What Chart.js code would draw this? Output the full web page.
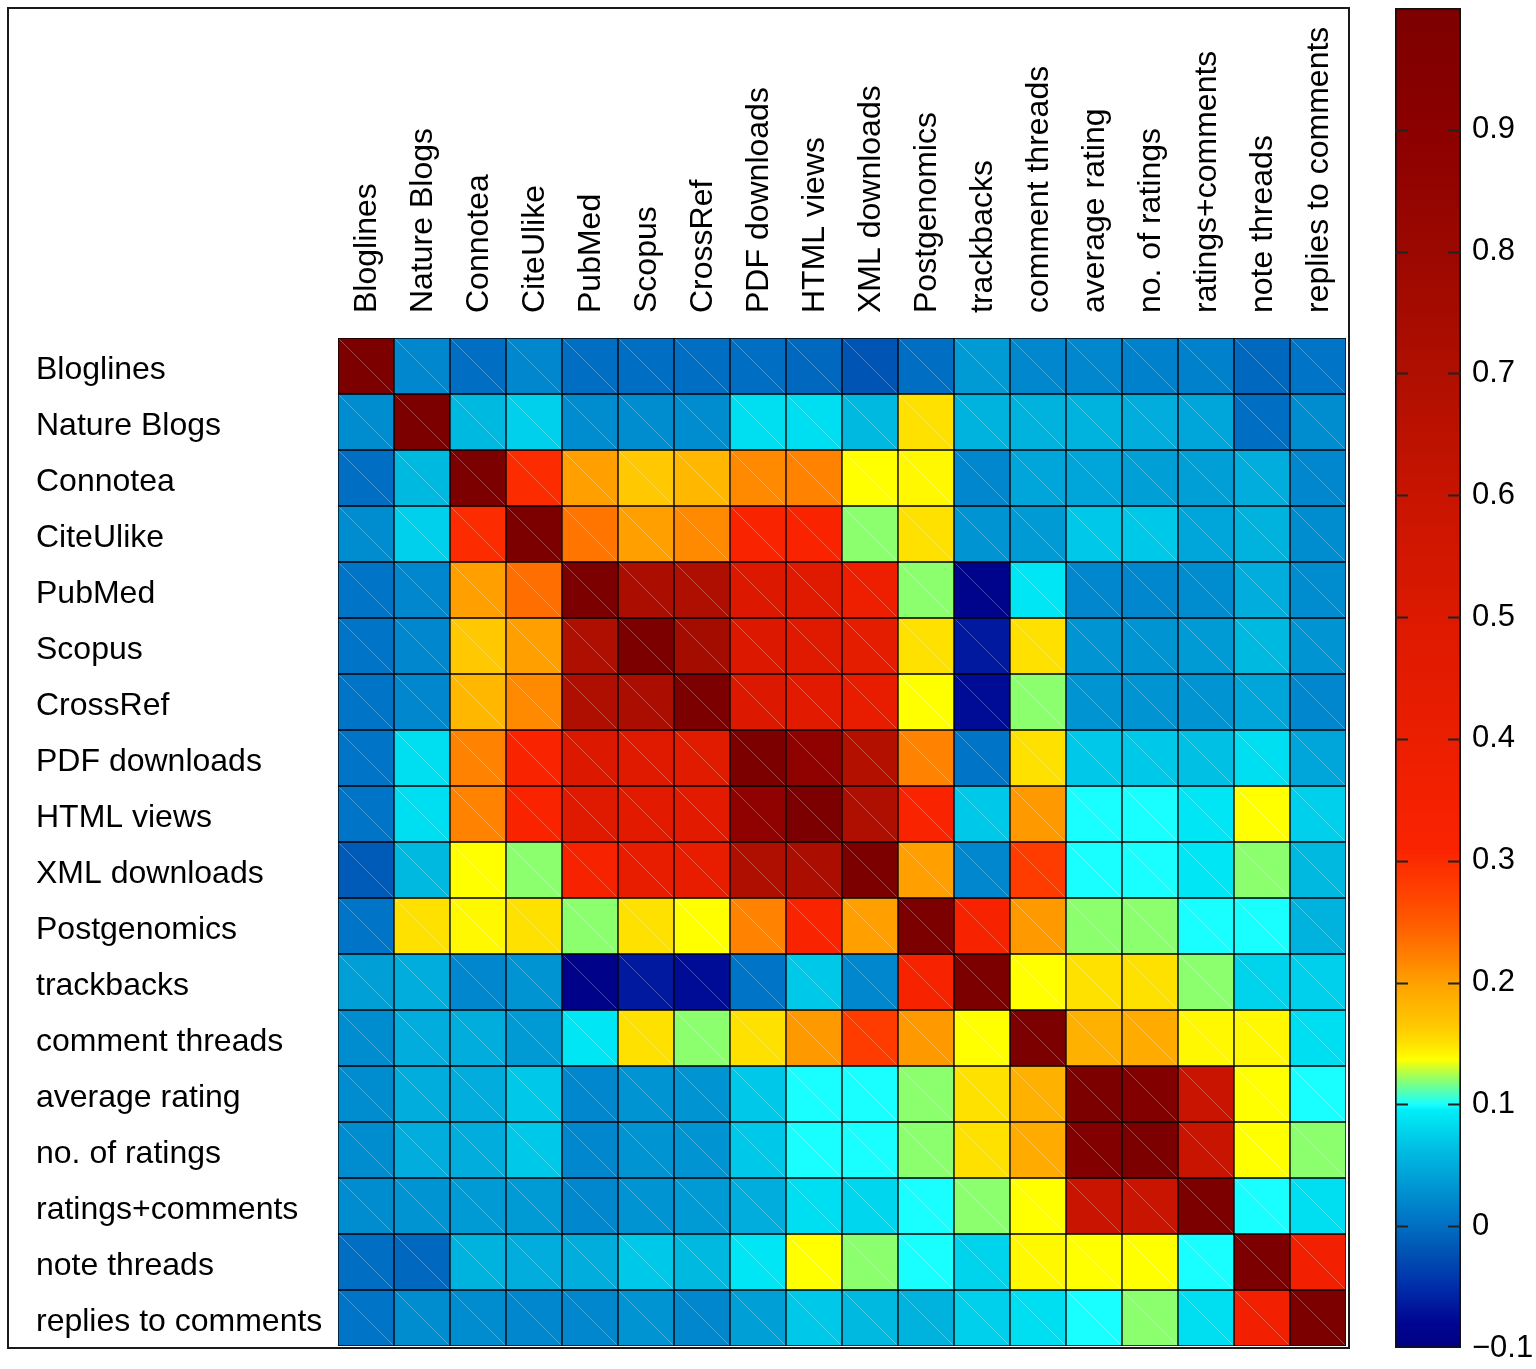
<!DOCTYPE html>
<html>
<head>
<meta charset="utf-8">
<script src="https://cdn.jsdelivr.net/npm/chart.js@4.4.1/dist/chart.umd.min.js"></script>
<style>
  body { margin: 0; background: #fff; }
  #heat { position: absolute; left: 7px; top: 7px; }
  #bar { position: absolute; left: 1380px; top: 0; }
</style>
</head>
<body>
<canvas id="heat" width="1343" height="1342"></canvas>
<canvas id="bar" width="156" height="1369"></canvas>
<script>
// variables, same order on both axes
const names = ['Bloglines', 'Nature Blogs', 'Connotea', 'CiteUlike', 'PubMed', 'Scopus', 'CrossRef',
  'PDF downloads', 'HTML views', 'XML downloads', 'Postgenomics', 'trackbacks', 'comment threads',
  'average rating', 'no. of ratings', 'ratings+comments', 'note threads', 'replies to comments']

// correlation values, one row per variable
const corr = [
  [1.00, 0.02, 0.00, 0.02, 0.00, 0.00, 0.00, 0.00, -0.005, -0.02, 0.00, 0.035, 0.02, 0.02, 0.015, 0.015, -0.005, 0.005],
  [0.025, 1.00, 0.06, 0.075, 0.025, 0.025, 0.025, 0.085, 0.085, 0.06, 0.15, 0.055, 0.055, 0.055, 0.05, 0.045, 0.00, 0.025],
  [0.00, 0.06, 1.00, 0.30, 0.20, 0.165, 0.18, 0.215, 0.22, 0.137, 0.14, 0.02, 0.045, 0.045, 0.04, 0.04, 0.05, 0.02],
  [0.025, 0.075, 0.30, 1.00, 0.23, 0.20, 0.215, 0.31, 0.31, 0.12, 0.15, 0.03, 0.035, 0.07, 0.07, 0.045, 0.055, 0.025],
  [0.005, 0.02, 0.20, 0.235, 1.00, 0.72, 0.70, 0.50, 0.48, 0.38, 0.12, -0.085, 0.09, 0.02, 0.02, 0.025, 0.05, 0.025],
  [0.005, 0.02, 0.165, 0.20, 0.70, 1.00, 0.75, 0.50, 0.48, 0.45, 0.15, -0.065, 0.15, 0.03, 0.03, 0.035, 0.06, 0.03],
  [0.005, 0.02, 0.18, 0.215, 0.70, 0.72, 1.00, 0.50, 0.46, 0.42, 0.137, -0.075, 0.12, 0.03, 0.03, 0.03, 0.045, 0.02],
  [0.005, 0.085, 0.22, 0.31, 0.50, 0.48, 0.47, 1.00, 0.88, 0.68, 0.22, 0.005, 0.15, 0.07, 0.07, 0.065, 0.085, 0.045],
  [0.005, 0.085, 0.22, 0.31, 0.48, 0.46, 0.46, 0.88, 1.00, 0.70, 0.31, 0.07, 0.205, 0.10, 0.10, 0.09, 0.137, 0.075],
  [-0.015, 0.06, 0.137, 0.12, 0.33, 0.42, 0.42, 0.70, 0.72, 1.00, 0.20, 0.02, 0.28, 0.10, 0.10, 0.09, 0.12, 0.06],
  [0.005, 0.15, 0.14, 0.15, 0.12, 0.15, 0.137, 0.22, 0.31, 0.20, 1.00, 0.33, 0.205, 0.12, 0.12, 0.10, 0.10, 0.055],
  [0.04, 0.05, 0.02, 0.03, -0.09, -0.065, -0.075, 0.005, 0.07, 0.02, 0.33, 1.00, 0.137, 0.15, 0.15, 0.12, 0.077, 0.075],
  [0.025, 0.05, 0.05, 0.035, 0.09, 0.15, 0.12, 0.15, 0.205, 0.28, 0.205, 0.137, 1.00, 0.185, 0.19, 0.14, 0.14, 0.085],
  [0.025, 0.05, 0.05, 0.07, 0.02, 0.03, 0.03, 0.07, 0.10, 0.10, 0.12, 0.15, 0.185, 1.00, 0.97, 0.60, 0.137, 0.10],
  [0.025, 0.05, 0.05, 0.07, 0.02, 0.03, 0.03, 0.07, 0.10, 0.10, 0.12, 0.15, 0.19, 0.97, 1.00, 0.60, 0.137, 0.12],
  [0.025, 0.03, 0.035, 0.035, 0.02, 0.03, 0.035, 0.05, 0.085, 0.08, 0.10, 0.12, 0.137, 0.60, 0.60, 1.00, 0.10, 0.085],
  [0.00, -0.005, 0.055, 0.05, 0.05, 0.07, 0.06, 0.09, 0.137, 0.12, 0.10, 0.077, 0.14, 0.137, 0.137, 0.10, 1.00, 0.36],
  [0.005, 0.025, 0.025, 0.02, 0.02, 0.03, 0.02, 0.04, 0.07, 0.06, 0.055, 0.075, 0.085, 0.10, 0.12, 0.085, 0.36, 1.00]
]

// colour bar range and tick labels
const cbMin = -0.1
const cbMax = 1.0
const cbTicks = [-0.1, 0, 0.1, 0.2, 0.3, 0.4, 0.5, 0.6, 0.7, 0.8, 0.9]

// jet-like colour map, stretched the way the colour bar shows it
const jetStops = [
  [-0.1, [0, 0, 130]], [-0.08, [0, 5, 145]], [-0.05, [0, 45, 170]], [-0.02, [0, 85, 180]],
  [0.0, [0, 110, 195]], [0.02, [0, 135, 205]], [0.04, [0, 160, 215]], [0.06, [0, 185, 225]],
  [0.08, [0, 215, 238]], [0.095, [0, 238, 248]], [0.1, [25, 255, 255]], [0.12, [140, 255, 110]],
  [0.137, [255, 255, 0]], [0.15, [255, 225, 0]], [0.165, [255, 200, 0]], [0.2, [255, 160, 0]],
  [0.22, [255, 130, 0]], [0.25, [255, 90, 0]], [0.28, [255, 60, 0]], [0.31, [250, 35, 0]],
  [0.4, [235, 30, 0]], [0.5, [220, 25, 0]], [0.6, [200, 20, 0]], [0.7, [175, 15, 0]],
  [0.8, [155, 8, 0]], [0.9, [140, 0, 0]], [1.0, [125, 0, 0]]
]

const rgb = c => `rgb(${c.map(Math.round).join(',')})`

function colorFor(v) {
  if (v <= jetStops[0][0]) return rgb(jetStops[0][1])
  for (let i = 1; i < jetStops.length; i++) {
    const [v1, c1] = jetStops[i]
    if (v <= v1) {
      const [v0, c0] = jetStops[i - 1]
      const t = (v - v0) / (v1 - v0)
      return rgb(c0.map((a, k) => a + (c1[k] - a) * t))
    }
  }
  return rgb(jetStops[jetStops.length - 1][1])
}

Chart.defaults.font.family = '"Liberation Sans", Arial, Helvetica, sans-serif'
Chart.defaults.color = '#000'

const noPadding = scale => {
  scale.paddingTop = 0
  scale.paddingBottom = 0
  scale.paddingLeft = 0
  scale.paddingRight = 0
}

const cellDiagonals = {
  id: 'cellDiagonals',
  afterDatasetsDraw(chart) {
    const ctx = chart.ctx
    ctx.save()
    ctx.strokeStyle = 'rgba(255,255,255,0.28)'
    ctx.lineWidth = 1
    chart.data.datasets.forEach((ds, i) => {
      chart.getDatasetMeta(i).data.forEach(bar => {
        const { x, y, base, width } = bar.getProps(['x', 'y', 'base', 'width'], true)
        const top = Math.min(y, base)
        const bottom = Math.max(y, base)
        ctx.beginPath()
        ctx.moveTo(x - width / 2 + 1.5, top + 1.5)
        ctx.lineTo(x + width / 2 - 1.5, bottom - 1.5)
        ctx.stroke()
      })
    })
    ctx.restore()
  }
}

const frame = {
  id: 'frame',
  afterDraw(chart) {
    const ctx = chart.ctx
    ctx.save()
    ctx.strokeStyle = '#1a1a1a'
    ctx.lineWidth = 2
    ctx.strokeRect(1, 1, chart.width - 2, chart.height - 2)
    ctx.restore()
  }
}

new Chart(document.getElementById('heat'), {
  type: 'bar',
  data: {
    labels: names,
    datasets: names.map((name, r) => ({
      label: name,
      data: corr[r].map(() => [r, r + 1]),
      backgroundColor: corr[r].map(colorFor),
      borderColor: '#000',
      borderWidth: 1,
      borderSkipped: false,
      grouped: false,
      barPercentage: 1,
      categoryPercentage: 1
    }))
  },
  options: {
    responsive: false,
    animation: false,
    layout: { padding: { left: 29, right: 4, top: 0, bottom: 3 } },
    plugins: {
      legend: { display: false },
      tooltip: { enabled: false }
    },
    scales: {
      x: {
        position: 'top',
        grid: { display: false, drawTicks: false },
        border: { display: false },
        ticks: {
          font: { size: 32 },
          color: '#000',
          minRotation: 90,
          maxRotation: 90,
          autoSkip: false,
          padding: 25,
          labelOffset: 40
        },
        afterFit(scale) {
          scale.height = 331
          noPadding(scale)
        }
      },
      y: {
        type: 'linear',
        min: 0,
        max: names.length,
        reverse: true,
        grid: { display: false, drawTicks: false },
        border: { display: false },
        afterBuildTicks(scale) {
          scale.ticks = names.map((n, i) => ({ value: i + 0.5 }))
        },
        ticks: {
          font: { size: 32 },
          color: '#000',
          autoSkip: false,
          crossAlign: 'far',
          padding: 0,
          labelOffset: 4,
          callback: (v, i) => names[i]
        },
        afterFit(scale) {
          scale.width = 302
          noPadding(scale)
        }
      }
    }
  },
  plugins: [cellDiagonals, frame]
})

function barGradient(context) {
  const chart = context.chart
  if (!chart.chartArea) return null
  const y = chart.scales.y
  const g = chart.ctx.createLinearGradient(0, y.getPixelForValue(cbMin), 0, y.getPixelForValue(cbMax))
  jetStops.forEach(([v, c]) => g.addColorStop((v - cbMin) / (cbMax - cbMin), rgb(c)))
  return g
}

const barTicks = {
  id: 'barTicks',
  afterDatasetsDraw(chart) {
    const { ctx, chartArea } = chart
    const y = chart.scales.y
    ctx.save()
    ctx.strokeStyle = '#222'
    ctx.lineWidth = 2
    cbTicks.forEach(v => {
      if (v === cbMin) return
      const py = Math.round(y.getPixelForValue(v)) + 0.5
      ctx.beginPath()
      ctx.moveTo(chartArea.left, py)
      ctx.lineTo(chartArea.left + 13, py)
      ctx.moveTo(chartArea.right - 13, py)
      ctx.lineTo(chartArea.right, py)
      ctx.stroke()
    })
    ctx.restore()
  }
}

new Chart(document.getElementById('bar'), {
  type: 'bar',
  data: {
    labels: [''],
    datasets: [{
      data: [[cbMin, cbMax]],
      backgroundColor: barGradient,
      borderColor: '#111',
      borderWidth: 2,
      borderSkipped: false,
      barPercentage: 1,
      categoryPercentage: 1
    }]
  },
  options: {
    responsive: false,
    animation: false,
    layout: { padding: { left: 15, right: 0, top: 8, bottom: 21 } },
    plugins: {
      legend: { display: false },
      tooltip: { enabled: false }
    },
    scales: {
      x: { display: false },
      y: {
        position: 'right',
        min: cbMin,
        max: cbMax,
        grid: { display: false, drawTicks: false },
        border: { display: false },
        afterBuildTicks(scale) {
          scale.ticks = cbTicks.map(v => ({ value: v }))
        },
        ticks: {
          font: { size: 31 },
          color: '#000',
          padding: 11,
          callback: v => (v < 0 ? '\u2212' + (-v) : String(v))
        },
        afterFit(scale) {
          scale.width = 75
          noPadding(scale)
        }
      }
    }
  },
  plugins: [barTicks]
})
</script>
</body>
</html>
